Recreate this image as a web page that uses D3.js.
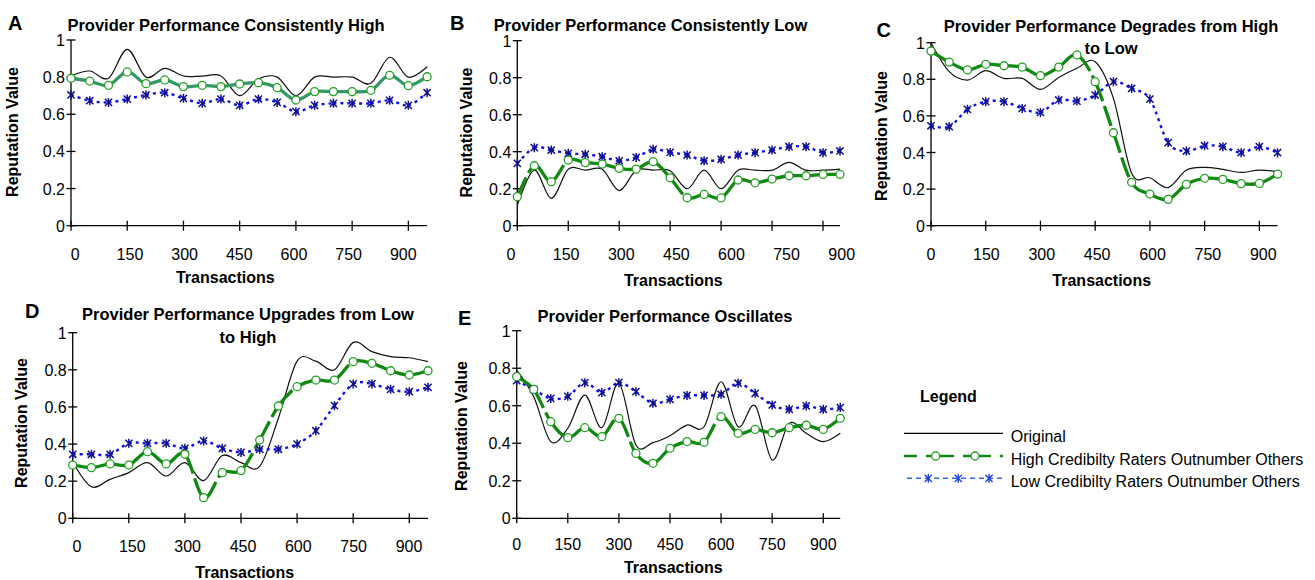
<!DOCTYPE html>
<html>
<head>
<meta charset="utf-8">
<script src="https://cdn.jsdelivr.net/npm/d3@7"></script>
<style>
  body { margin: 0; background: #fff; }
  svg { display: block; font-family: "Liberation Sans", Arial, sans-serif; }
  .title { font-weight: bold; font-size: 16.5px; text-anchor: middle; }
  .letter { font-weight: bold; font-size: 20px; }
  .axis-title { font-weight: bold; font-size: 16px; text-anchor: middle; }
  .tick-label { font-size: 16px; }
</style>
</head>
<body>
<svg id="chart" width="1315" height="580"></svg>
<script>
// ---- data ----
const transactions = [0, 50, 100, 150, 200, 250, 300, 350, 400, 450, 500, 550, 600, 650, 700, 750, 800, 850, 900, 950];
const xTicks = [0, 150, 300, 450, 600, 750, 900];
const yTicks = [0, 0.2, 0.4, 0.6, 0.8, 1];
const yTickLabels = ["0", "0.2", "0.4", "0.6", "0.8", "1"];

const seriesNames = ["Original", "High Credibilty Raters Outnumber Others", "Low Credibilty Raters Outnumber Others"];

// A - consistently high
const origA = [0.806, 0.833, 0.794, 0.95, 0.80, 0.847, 0.806, 0.806, 0.806, 0.70, 0.79, 0.80, 0.70, 0.80, 0.80, 0.80, 0.767, 0.907, 0.80, 0.856];
const highA = [0.794, 0.779, 0.756, 0.828, 0.765, 0.785, 0.749, 0.756, 0.749, 0.763, 0.770, 0.743, 0.677, 0.722, 0.722, 0.722, 0.729, 0.810, 0.754, 0.802];
const lowA  = [0.704, 0.673, 0.664, 0.682, 0.704, 0.716, 0.686, 0.659, 0.682, 0.648, 0.682, 0.664, 0.614, 0.648, 0.659, 0.659, 0.659, 0.675, 0.648, 0.716];

// B - consistently low
const origB = [0.11, 0.30, 0.148, 0.305, 0.30, 0.305, 0.19, 0.30, 0.30, 0.297, 0.20, 0.30, 0.20, 0.30, 0.30, 0.30, 0.342, 0.30, 0.30, 0.306];
const highB = [0.157, 0.324, 0.238, 0.355, 0.341, 0.333, 0.310, 0.306, 0.346, 0.259, 0.151, 0.169, 0.150, 0.247, 0.232, 0.252, 0.270, 0.270, 0.277, 0.277];
const lowB  = [0.337, 0.422, 0.409, 0.391, 0.386, 0.373, 0.351, 0.369, 0.413, 0.396, 0.382, 0.351, 0.359, 0.382, 0.395, 0.409, 0.427, 0.427, 0.395, 0.404];

// C - degrades from high to low
const origC = [1.0, 0.842, 0.796, 0.847, 0.805, 0.805, 0.745, 0.81, 0.86, 0.896, 0.696, 0.286, 0.262, 0.208, 0.304, 0.319, 0.308, 0.291, 0.304, 0.295];
const highC = [0.954, 0.894, 0.851, 0.882, 0.874, 0.867, 0.820, 0.867, 0.933, 0.787, 0.508, 0.237, 0.173, 0.144, 0.226, 0.259, 0.253, 0.230, 0.231, 0.282];
const lowC  = [0.546, 0.541, 0.636, 0.678, 0.678, 0.641, 0.619, 0.687, 0.681, 0.714, 0.787, 0.750, 0.692, 0.454, 0.408, 0.437, 0.432, 0.399, 0.432, 0.399];

// D - upgrades from low to high
const origD = [0.305, 0.17, 0.21, 0.246, 0.30, 0.228, 0.30, 0.203, 0.338, 0.30, 0.28, 0.539, 0.847, 0.847, 0.80, 0.948, 0.898, 0.871, 0.865, 0.844];
const highD = [0.287, 0.273, 0.293, 0.287, 0.359, 0.293, 0.345, 0.111, 0.246, 0.257, 0.422, 0.605, 0.709, 0.745, 0.745, 0.844, 0.835, 0.795, 0.772, 0.795];
const lowD  = [0.345, 0.345, 0.345, 0.404, 0.404, 0.404, 0.377, 0.417, 0.377, 0.355, 0.372, 0.372, 0.400, 0.472, 0.607, 0.724, 0.724, 0.695, 0.682, 0.706];

// E - oscillates
const origE = [0.79, 0.648, 0.409, 0.48, 0.657, 0.483, 0.72, 0.391, 0.403, 0.44, 0.497, 0.488, 0.728, 0.488, 0.60, 0.311, 0.506, 0.453, 0.409, 0.453];
const highE = [0.755, 0.687, 0.515, 0.430, 0.483, 0.435, 0.533, 0.346, 0.293, 0.373, 0.409, 0.405, 0.542, 0.453, 0.474, 0.456, 0.483, 0.496, 0.474, 0.533];
const lowE  = [0.734, 0.687, 0.639, 0.650, 0.723, 0.670, 0.723, 0.675, 0.613, 0.634, 0.655, 0.655, 0.661, 0.720, 0.666, 0.604, 0.581, 0.599, 0.581, 0.590];

// ---- layout ----
const panels = [
    {letter: "A", letterAt: [8, 30], title: ["Provider Performance Consistently High"], titleAt: [226, 30.7],
     x: [71, 427.1], y: [225.7, 40], labels: [75.3, 403.3], labelY: 260, yTitle: [18.4, 132], xTitle: [225.3, 283.3],
     green: "#339966", orig: origA, high: highA, low: lowA},
    {letter: "B", letterAt: [450, 30], title: ["Provider Performance Consistently Low"], titleAt: [650.5, 30.7],
     x: [517.3, 840], y: [225.7, 40.7], labels: [511, 841.7], labelY: 259.5, yTitle: [471.7, 132.5], xTitle: [673.3, 286],
     green: "#118811", orig: origB, high: highB, low: lowB},
    {letter: "C", letterAt: [876.5, 37], title: ["Provider Performance Degrades from High", "to Low"], titleAt: [1111, 31.7],
     x: [931, 1277.6], y: [225.7, 42.7], labels: [931, 1263.3], labelY: 260, yTitle: [886.7, 136], xTitle: [1101.7, 286],
     green: "#118811", orig: origC, high: highC, low: lowC},
    {letter: "D", letterAt: [25, 318], title: ["Provider Performance Upgrades from Low", "to High"], titleAt: [248, 320],
     x: [72.7, 428], y: [518.3, 332.7], labels: [77, 409], labelY: 551.7, yTitle: [26.7, 423], xTitle: [244.7, 578],
     green: "#118811", orig: origD, high: highD, low: lowD},
    {letter: "E", letterAt: [458, 325], title: ["Provider Performance Oscillates"], titleAt: [665, 321.7],
     x: [516.7, 840.3], y: [518.3, 330.7], labels: [516.7, 823.3], labelY: 550, yTitle: [466.7, 426], xTitle: [673.3, 573],
     green: "#118811", orig: origE, high: highE, low: lowE}
];

const blueLine = "#1010ee";
const starColor = "#10108a";
const circleColor = "#22a022";

const svg = d3.select("#chart");

// smooth (catmull-rom) curve, one path per segment so dash pattern restarts at each point
function segmentPaths(pts) {
    let out = [];
    for (let i = 0; i < pts.length - 1; i++) {
        let p0 = pts[Math.max(i - 1, 0)], p1 = pts[i], p2 = pts[i + 1], p3 = pts[Math.min(i + 2, pts.length - 1)];
        let p = d3.path();
        p.moveTo(p1[0], p1[1]);
        p.bezierCurveTo(p1[0] + (p2[0] - p0[0]) / 6, p1[1] + (p2[1] - p0[1]) / 6,
                        p2[0] - (p3[0] - p1[0]) / 6, p2[1] - (p3[1] - p1[1]) / 6,
                        p2[0], p2[1]);
        out.push(p.toString());
    }
    return out;
}

function starPath(r) {
    let d = r * 0.8;
    return "M0," + (-r) + "L0," + r + "M" + (-d) + "," + (-d) + "L" + d + "," + d + "M" + (-d) + "," + d + "L" + d + "," + (-d);
}

function drawPanel(cfg) {
    const g = svg.append("g");
    const sx = d3.scaleLinear().domain([0, 950]).range(cfg.x);
    const sy = d3.scaleLinear().domain([0, 1]).range(cfg.y);
    const sl = d3.scaleLinear().domain([0, 900]).range(cfg.labels);

    // axes
    g.append("line").attr("x1", sx(0)).attr("x2", sx(950)).attr("y1", sy(0)).attr("y2", sy(0))
        .attr("stroke", "#000").attr("stroke-width", 1.3);
    g.append("line").attr("x1", sx(0)).attr("x2", sx(0)).attr("y1", sy(0) + 1).attr("y2", sy(1))
        .attr("stroke", "#000").attr("stroke-width", 1.3);
    g.selectAll(".xt").data(xTicks).enter().append("line")
        .attr("x1", d => sx(d)).attr("x2", d => sx(d)).attr("y1", sy(0) - 5).attr("y2", sy(0) + 5)
        .attr("stroke", "#000").attr("stroke-width", 1.3);
    g.selectAll(".yt").data(yTicks).enter().append("line")
        .attr("x1", sx(0) - 4.5).attr("x2", sx(0) + 4.5).attr("y1", d => sy(d)).attr("y2", d => sy(d))
        .attr("stroke", "#000").attr("stroke-width", 1.3);
    g.selectAll(".xl").data(xTicks).enter().append("text")
        .attr("class", "tick-label").attr("text-anchor", "middle")
        .attr("x", d => sl(d)).attr("y", cfg.labelY).text(d => d);
    g.selectAll(".yl").data(yTicks).enter().append("text")
        .attr("class", "tick-label").attr("text-anchor", "end")
        .attr("x", sx(0) - 6).attr("y", d => sy(d) + 6).text((d, i) => yTickLabels[i]);

    // titles
    g.append("text").attr("class", "letter").attr("x", cfg.letterAt[0]).attr("y", cfg.letterAt[1]).text(cfg.letter);
    cfg.title.forEach((t, i) => {
        g.append("text").attr("class", "title").attr("x", cfg.titleAt[0]).attr("y", cfg.titleAt[1] + i * 22.5).text(t);
    });
    g.append("text").attr("class", "axis-title")
        .attr("transform", "translate(" + cfg.yTitle[0] + "," + cfg.yTitle[1] + ") rotate(-90)")
        .text("Reputation Value");
    g.append("text").attr("class", "axis-title").attr("x", cfg.xTitle[0]).attr("y", cfg.xTitle[1]).text("Transactions");

    // original: thin smooth black
    const line = d3.line().x((d, i) => sx(transactions[i])).y(d => sy(d)).curve(d3.curveCardinal.tension(0));
    g.append("path").attr("d", line(cfg.orig)).attr("fill", "none").attr("stroke", "#111").attr("stroke-width", 1.2);

    const lowPts = cfg.low.map((v, i) => [sx(transactions[i]), sy(v)]);
    const highPts = cfg.high.map((v, i) => [sx(transactions[i]), sy(v)]);

    g.selectAll(".lowseg").data(segmentPaths(lowPts)).enter().append("path")
        .attr("d", d => d).attr("fill", "none").attr("stroke", blueLine)
        .attr("stroke-width", 2.4).attr("stroke-dasharray", "3,4");
    g.selectAll(".highseg").data(segmentPaths(highPts)).enter().append("path")
        .attr("d", d => d).attr("fill", "none").attr("stroke", cfg.green)
        .attr("stroke-width", 3.3).attr("stroke-dasharray", "21,5");

    g.selectAll(".star").data(lowPts).enter().append("path")
        .attr("transform", d => "translate(" + d[0] + "," + d[1] + ")")
        .attr("d", starPath(4.5)).attr("stroke", starColor).attr("stroke-width", 1.5).attr("fill", "none");
    g.selectAll(".circ").data(highPts).enter().append("circle")
        .attr("cx", d => d[0]).attr("cy", d => d[1]).attr("r", 4)
        .attr("fill", "#fff").attr("stroke", circleColor).attr("stroke-width", 1.3);
}

panels.forEach(drawPanel);

// ---- legend ----
const lg = svg.append("g");
lg.append("text").attr("x", 920).attr("y", 401.7).attr("font-weight", "bold").attr("font-size", 16).text("Legend");
const rowY = [433.3, 456, 478.3];
lg.append("line").attr("x1", 904).attr("x2", 1003).attr("y1", rowY[0]).attr("y2", rowY[0])
    .attr("stroke", "#000").attr("stroke-width", 1.2);
lg.append("line").attr("x1", 904).attr("x2", 1003).attr("y1", rowY[1]).attr("y2", rowY[1])
    .attr("stroke", "#118811").attr("stroke-width", 2.4).attr("stroke-dasharray", "28,9").attr("stroke-dashoffset", 15);
[935.7, 975].forEach(x => lg.append("circle").attr("cx", x).attr("cy", rowY[1]).attr("r", 4)
    .attr("fill", "#fff").attr("stroke", circleColor).attr("stroke-width", 1.3));
lg.append("line").attr("x1", 907).attr("x2", 1003).attr("y1", rowY[2]).attr("y2", rowY[2])
    .attr("stroke", "#3366ee").attr("stroke-width", 1.5).attr("stroke-dasharray", "5,4");
[928.3, 958.3, 989].forEach(x => lg.append("path").attr("transform", "translate(" + x + "," + rowY[2] + ")")
    .attr("d", starPath(4.5)).attr("stroke", "#2244dd").attr("stroke-width", 1.4).attr("fill", "none"));
seriesNames.forEach((s, i) => {
    lg.append("text").attr("x", 1010.7).attr("y", rowY[i] + 9).attr("font-size", 16).text(s);
});
</script>
</body>
</html>
